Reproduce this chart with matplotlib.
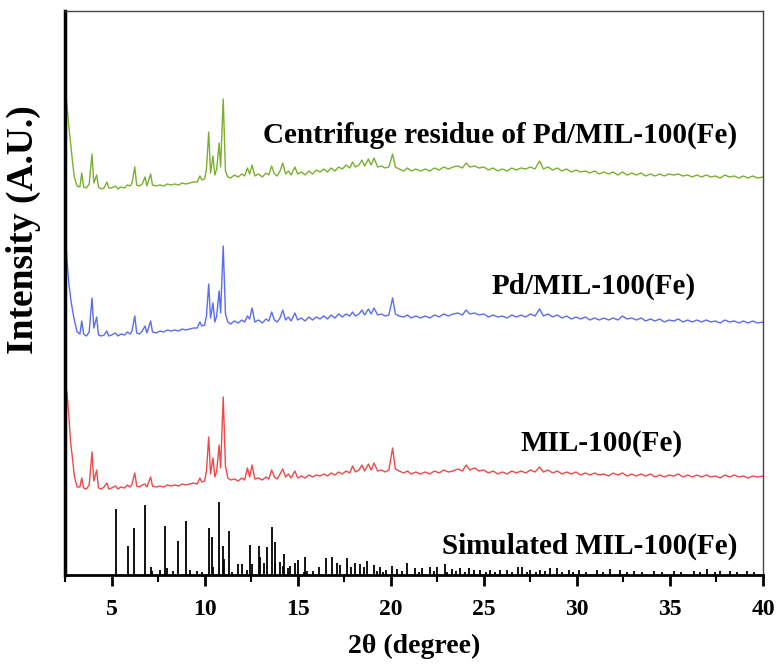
import matplotlib
matplotlib.use("Agg")
import matplotlib.pyplot as plt
import numpy as np
from matplotlib.ticker import MultipleLocator

# 2theta grid shared by the three measured patterns (degree)
two_theta = [
    2.5, 2.6, 2.7, 2.8, 2.9, 3.0, 3.15, 3.3, 3.4, 3.5,
    3.65, 3.8, 3.95, 4.05, 4.2, 4.3, 4.45, 4.6, 4.75, 4.85,
    5.0, 5.2, 5.35, 5.5, 5.7, 5.85, 6.0, 6.1, 6.25, 6.35,
    6.5, 6.65, 6.8, 6.9, 7.1, 7.2, 7.4, 7.6, 7.8, 8.0,
    8.2, 8.4, 8.6, 8.8, 9.0, 9.2, 9.4, 9.6, 9.75, 9.85,
    10.0, 10.1, 10.22, 10.32, 10.45, 10.55, 10.65, 10.78, 10.86, 11.0,
    11.12, 11.25, 11.4, 11.6, 11.8, 12.0, 12.15, 12.3, 12.42, 12.55,
    12.7, 12.9, 13.1, 13.3, 13.45, 13.6, 13.75, 13.9, 14.05, 14.2,
    14.35, 14.5, 14.65, 14.85, 15.0, 15.2, 15.4, 15.6, 15.8, 16.0,
    16.2, 16.4, 16.6, 16.8, 17.0, 17.2, 17.4, 17.6, 17.8, 17.95,
    18.1, 18.3, 18.45, 18.6, 18.8, 18.95, 19.1, 19.3, 19.5, 19.7,
    19.9, 20.1, 20.25, 20.45, 20.7, 20.9, 21.1, 21.35, 21.6, 21.85,
    22.1, 22.35, 22.6, 22.85, 23.1, 23.35, 23.6, 23.85, 24.05, 24.25,
    24.5, 24.75, 25.0, 25.25, 25.5, 25.75, 26.0, 26.25, 26.5, 26.75,
    27.0, 27.25, 27.5, 27.75, 28.0, 28.2, 28.45, 28.7, 28.95, 29.2,
    29.45, 29.7, 29.95, 30.2, 30.45, 30.7, 30.95, 31.2, 31.45, 31.7,
    31.95, 32.2, 32.45, 32.7, 32.95, 33.2, 33.45, 33.7, 33.95, 34.2,
    34.45, 34.7, 34.95, 35.2, 35.45, 35.7, 35.95, 36.2, 36.45, 36.7,
    36.95, 37.2, 37.45, 37.7, 37.95, 38.2, 38.45, 38.7, 38.95, 39.2,
    39.45, 39.7, 40.0,
]

# MIL-100(Fe)
mil100 = [
    92, 84, 62, 34, 18, 0, -11, -11, -2, -12,
    -13, -9, 24, -5, 6, -12, -13, -11, -7, -13,
    -12, -10, -13, -11, -12, -9, -11, -8, 3, -10,
    -11, -9, -8, -11, -1, -10, -11, -10, -11, -9,
    -10, -9, -10, -8, -9, -8, -7, -8, -2, -6,
    -5, 5, 39, 2, 18, -1, 5, 31, 8, 79,
    10, -2, -4, -3, -5, -2, -4, 8, -1, 11,
    -3, -2, -4, -1, -3, 6, -1, -3, 2, 7,
    -1, 2, -2, 5, -2, 0, -2, 1, -1, 1,
    0, 2, 0, 3, 1, 4, 2, 5, 3, 10,
    4, 6, 11, 5, 12, 6, 13, 5, 6, 4,
    6, 28, 7, 5, 3, 5, 2, 4, 2, 4,
    2, 5, 3, 6, 4, 5, 7, 5, 11, 6,
    8, 5, 6, 3, 5, 2, 4, 2, 5, 3,
    5, 3, 6, 4, 9, 4, 6, 3, 5, 2,
    4, 2, 4, 1, 3, 1, 3, 1, 2, 0,
    3, 1, 3, 0, 2, 0, 2, 0, 2, -1,
    1, -1, 1, 0, 2, -1, 1, -1, 1, -1,
    1, -1, 0, -2, 1, -1, 1, -1, 0, -2,
    0, -1, 0,
]

# Pd/MIL-100(Fe)
pd_mil100 = [
    94, 64, 40, 24, 12, 2, -10, -12, 1, -12,
    -14, -10, 24, -6, 5, -13, -14, -13, -9, -14,
    -13, -11, -14, -12, -13, -10, -12, -9, 6, -11,
    -12, -9, -4, -11, 1, -10, -11, -9, -10, -8,
    -9, -8, -9, -7, -8, -7, -6, -6, 0, -4,
    -3, 6, 38, 4, 19, 0, 6, 31, 9, 76,
    8, 0, -2, 1, -1, 2, 0, 6, 3, 14,
    0, 2, -1, 3, 1, 10, 2, 0, 4, 12,
    2, 5, 1, 9, 2, 4, 1, 5, 2, 5,
    3, 6, 3, 7, 4, 8, 5, 8, 6, 10,
    6, 8, 12, 7, 13, 8, 14, 7, 8, 6,
    7, 24, 8, 6, 5, 7, 4, 6, 4, 6,
    4, 7, 5, 8, 6, 8, 9, 7, 12, 8,
    9, 7, 8, 5, 7, 5, 6, 4, 7, 5,
    7, 5, 8, 6, 13, 6, 8, 5, 7, 4,
    6, 3, 5, 3, 5, 2, 4, 2, 4, 2,
    4, 2, 6, 3, 4, 2, 4, 1, 3, 1,
    3, 0, 2, 1, 3, 0, 2, 0, 2, 0,
    2, 0, 1, -1, 2, 0, 1, -1, 1, -1,
    1, -1, 0,
]

# Centrifuge residue of Pd/MIL-100(Fe)
residue = [
    92, 72, 52, 34, 16, 0, -9, -10, 4, -10,
    -11, -7, 23, -6, 2, -10, -12, -11, -5, -11,
    -11, -9, -12, -10, -11, -8, -9, -6, 10, -8,
    -9, -7, 0, -9, 3, -8, -9, -8, -9, -7,
    -8, -7, -8, -6, -7, -6, -5, -5, 1, -3,
    -2, 8, 45, 4, 21, 2, 8, 34, 10, 78,
    6, 0, -1, 2, 0, 3, 1, 9, 3, 12,
    1, 3, 0, 4, 2, 11, 3, 1, 6, 14,
    3, 6, 2, 10, 3, 5, 2, 6, 3, 7,
    5, 8, 5, 9, 6, 10, 8, 12, 9, 15,
    10, 12, 17, 11, 18, 12, 19, 10, 11, 9,
    10, 23, 10, 8, 6, 9, 6, 8, 6, 8,
    6, 9, 7, 10, 8, 10, 11, 9, 14, 10,
    11, 9, 10, 7, 9, 6, 8, 6, 9, 7,
    9, 8, 10, 8, 16, 8, 10, 7, 9, 6,
    8, 5, 7, 5, 6, 4, 6, 3, 5, 3,
    5, 2, 5, 2, 4, 2, 4, 1, 3, 1,
    3, 1, 3, 2, 3, 1, 2, 0, 2, 0,
    2, 0, 1, -1, 2, 0, 1, -1, 1, -1,
    1, -1, 0,
]

# simulated reflections: position (degree) and relative intensity
sim_pos = [
    5.22, 5.87, 6.23, 6.8, 7.1, 7.2, 7.59, 7.86, 7.96, 8.32,
    8.57, 9.0, 9.24, 9.6, 9.85, 10.22, 10.4, 10.47, 10.76, 10.98,
    11.02, 11.3, 11.47, 11.78, 12.0, 12.28, 12.46, 12.52, 12.9, 12.97,
    13.18, 13.34, 13.63, 13.76, 13.8, 14.04, 14.2, 14.27, 14.47, 14.6,
    14.87, 15.0, 15.35, 15.4, 15.5, 15.85, 16.17, 16.5, 16.87, 17.1,
    17.28, 17.64, 17.86, 18.09, 18.36, 18.54, 18.72, 19.08, 19.25, 19.44,
    19.6, 19.76, 20.06, 20.33, 20.6, 20.9, 21.32, 21.5, 21.67, 22.12,
    22.3, 22.48, 22.93, 23.0, 23.29, 23.5, 23.74, 24.0, 24.18, 24.45,
    24.81, 25.1, 25.35, 25.6, 25.89, 26.24, 26.5, 26.82, 27.05, 27.3,
    27.5, 27.8, 28.04, 28.3, 28.58, 28.93, 29.2, 29.56, 29.8, 30.1,
    30.5, 31.08, 31.4, 31.8, 32.34, 32.7, 33.05, 33.5, 34.13, 34.6,
    35.2, 35.6, 36.28, 36.6, 37.0, 37.4, 37.7, 38.25, 38.6, 39.15,
    39.5,
]
sim_int = [
    66, 29, 47, 70, 8, 4, 5, 49, 7, 4,
    34, 54, 5, 4, 3, 47, 38, 8, 73, 29,
    16, 44, 3, 11, 11, 5, 30, 11, 29, 18,
    12, 28, 48, 12, 33, 13, 9, 21, 7, 9,
    12, 15, 3, 18, 4, 4, 8, 17, 18, 12,
    10, 17, 8, 12, 11, 8, 14, 10, 4, 8,
    3, 5, 9, 6, 4, 12, 7, 3, 7, 8,
    4, 8, 11, 3, 6, 4, 7, 3, 7, 5,
    5, 3, 5, 3, 5, 5, 3, 8, 8, 3,
    5, 3, 5, 4, 7, 7, 3, 5, 3, 5,
    3, 5, 3, 6, 5, 3, 4, 3, 4, 3,
    4, 3, 4, 3, 6, 3, 4, 4, 3, 4,
    3,
]

patterns = [
    (mil100, 99, '#f04848', 'MIL-100(Fe)', 31.3, 124),
    (pd_mil100, 253, '#5a6cf0', 'Pd/MIL-100(Fe)', 30.9, 281),
    (residue, 398, '#7aaf2f', 'Centrifuge residue of Pd/MIL-100(Fe)', 25.9, 432),
]

plt.rcParams['font.family'] = ['Liberation Serif', 'DejaVu Serif']
plt.rcParams['font.weight'] = 'bold'

fig = plt.figure(figsize=(7.78, 6.64), dpi=100)
ax = fig.add_axes([65 / 778, 89 / 664, 698 / 778, 564 / 664])

x = np.array(two_theta)
for values, offset, color, label, tx, ty in patterns:
    ax.plot(x, np.array(values) + offset, color=color, lw=1.0)
    ax.text(tx, ty, label, ha='center', va='baseline', fontsize=21, fontweight='bold')

ax.vlines(sim_pos, 0, sim_int, color='black', lw=1.3)
ax.text(30.7, 21, 'Simulated MIL-100(Fe)', ha='center', va='baseline', fontsize=21, fontweight='bold')

ax.set_xlim(2.5, 40)
ax.set_ylim(0, 564)
ax.xaxis.set_major_locator(MultipleLocator(5))
ax.xaxis.set_minor_locator(MultipleLocator(2.5))
ax.tick_params(axis='x', which='major', direction='out', length=8, width=2, labelsize=17, pad=9)
ax.tick_params(axis='x', which='minor', direction='out', length=5, width=1.5)
ax.set_yticks([])

ax.spines['left'].set_linewidth(2.5)
ax.spines['bottom'].set_linewidth(2)
for side in ('top', 'right'):
    ax.spines[side].set_linewidth(1)
    ax.spines[side].set_color('#444444')

ax.set_xlabel('2θ (degree)', fontsize=20, fontweight='bold', labelpad=10)
ax.set_ylabel('Intensity (A.U.)', fontsize=27, fontweight='bold')
ax.yaxis.set_label_coords(-0.034, 0.612)

fig.savefig('out.png', dpi=100)
